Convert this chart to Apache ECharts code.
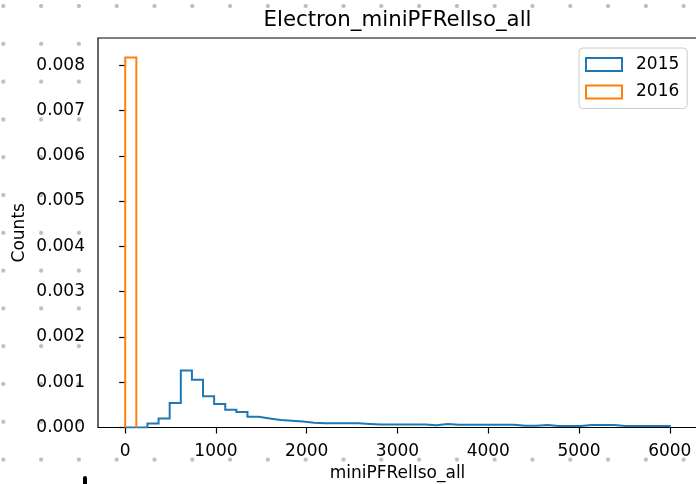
<!DOCTYPE html>
<html>
<head>
<meta charset="utf-8">
<script src="https://cdn.jsdelivr.net/npm/echarts@6/dist/echarts.min.js"></script>
<style>
  html, body { margin: 0; padding: 0; }
  body {
    background-color: #ffffff;
    background-image: radial-gradient(circle, #bdbdbd 0, #bdbdbd 1.7px, rgba(255,255,255,0) 2.4px);
    background-size: 37.8px 37.8px;
    background-position: -15.6px -12.9px;
  }
  #chart { width: 696px; height: 484px; }
</style>
</head>
<body>
<div id="chart"></div>
<script>
// ---- data ----
const range2015 = [0, 6000];
const counts2015 = [
  0, 0, 0.00009, 0.00020, 0.00054, 0.00126, 0.001055, 0.00069, 0.00052, 0.00039,
  0.00034, 0.000238, 0.00020, 0.000165, 0.00015, 0.00013, 0.000105, 0.000093, 0.000093, 0.000093,
  0.000093, 0.00008, 0.000065, 0.000065, 0.000068, 0.000068, 0.000068, 0.00005, 0.000075, 0.000062,
  0.000062, 0.000062, 0.000062, 0.000062, 0.000062, 0.00004, 0.00004, 0.000055, 0.000035, 0.000035,
  0.000035, 0.000055, 0.000055, 0.000055, 0.000035, 0.000035, 0.000035, 0.000035, 0.000035
];
const range2016 = [0, 6000 / 49];
const counts2016 = [0.00817];
const seriesNames = ['2015', '2016'];
const xTicks = [0, 1000, 2000, 3000, 4000, 5000, 6000];
const yTicks = [0, 0.001, 0.002, 0.003, 0.004, 0.005, 0.006, 0.007, 0.008];
const colors = ['#1f77b4', '#ff7f0e'];

// ---- build step outline points from bin edges ----
function stepPoints(counts, range) {
  const w = (range[1] - range[0]) / counts.length;
  const pts = [[range[0], 0]];
  for (let i = 0; i < counts.length; i++) pts.push([range[0] + i * w, counts[i]]);
  pts.push([range[1], counts[counts.length - 1]]);
  pts.push([range[1], 0]);
  return pts;
}

const font = 'DejaVu Sans';
const chart = echarts.init(document.getElementById('chart'), null, { renderer: 'canvas' });
chart.setOption({
  animation: false,
  backgroundColor: 'transparent',
  graphic: [
    { type: 'text', x: 397.5, y: 10, z: 10,
      style: { text: 'Electron_miniPFRelIso_all', font: '21.3px "DejaVu Sans"', fill: '#000', align: 'center', verticalAlign: 'top' } },
    { type: 'rect', shape: { x: 83, y: 476, width: 4, height: 10, r: [2, 2, 0, 0] }, style: { fill: '#000' } }
  ],
  grid: {
    left: 98, top: 38, right: -1, bottom: 56.5,
    outerBoundsMode: 'none', containLabel: false,
    show: true, backgroundColor: '#ffffff', borderColor: '#000', borderWidth: 1.2
  },
  legend: {
    orient: 'vertical', left: 579, top: 48,
    itemWidth: 36, itemHeight: 13, itemGap: 10.5,
    padding: [8, 8, 8, 6],
    backgroundColor: '#ffffff', borderColor: '#cccccc', borderWidth: 1, borderRadius: 4,
    textStyle: { fontFamily: font, fontSize: 17, color: '#000', padding: [0, 0, 0, 9] },
    data: seriesNames.map((n, i) => ({
      name: n, icon: 'rect',
      itemStyle: { color: '#ffffff', borderColor: colors[i], borderWidth: 2 }
    }))
  },
  xAxis: {
    type: 'value', min: -300, max: 6300,
    name: 'miniPFRelIso_all', nameLocation: 'middle', nameGap: 38, nameMoveOverlap: false,
    nameTextStyle: { fontFamily: font, fontSize: 17, color: '#000' },
    axisLine: { show: false },
    axisTick: { show: true, length: 6, inside: false, customValues: xTicks, lineStyle: { color: '#000', width: 1.2 } },
    axisLabel: { customValues: xTicks, margin: 16, fontFamily: font, fontSize: 17, color: '#000',
      formatter: v => String(v) },
    splitLine: { show: false }
  },
  yAxis: {
    type: 'value', min: 0, max: 0.0086,
    name: 'Counts', nameLocation: 'middle', nameGap: 70, nameRotate: 90, nameMoveOverlap: false,
    nameTextStyle: { fontFamily: font, fontSize: 17, color: '#000' },
    axisLine: { show: false },
    axisTick: { show: true, length: 6, inside: false, customValues: yTicks, lineStyle: { color: '#000', width: 1.2 } },
    axisLabel: { customValues: yTicks, margin: 13, fontFamily: font, fontSize: 17, color: '#000',
      formatter: v => v.toFixed(3) },
    splitLine: { show: false }
  },
  series: [[counts2015, range2015], [counts2016, range2016]].map((c, i) => ({
    name: seriesNames[i], type: 'line', step: 'end', showSymbol: false, symbol: 'none',
    data: stepPoints(c[0], c[1]),
    lineStyle: { color: colors[i], width: 2, join: 'miter' },
    itemStyle: { color: colors[i] },
    z: 2 + i
  }))
});
</script>
</body>
</html>
